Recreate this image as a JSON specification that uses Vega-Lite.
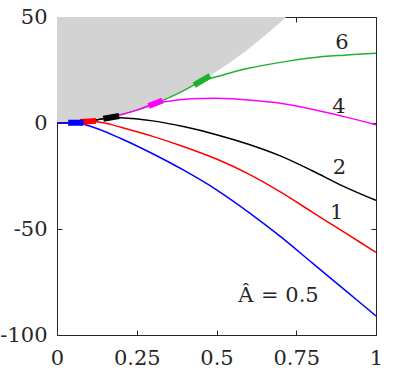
{
  "$schema": "https://vega.github.io/schema/vega-lite/v6.json",
  "width": 319,
  "height": 318,
  "autosize": {"type": "none"},
  "padding": {"left": 57, "top": 17, "right": 23, "bottom": 40},
  "background": "white",
  "config": {
    "view": {"stroke": null}
  },
  "datasets": {
    "bound": [
      {"x": 0, "y": 0}, {"x": 0.05, "y": 0.24}, {"x": 0.1, "y": 0.97}, {"x": 0.15, "y": 2.18},
      {"x": 0.2, "y": 3.88}, {"x": 0.25, "y": 6.06}, {"x": 0.3, "y": 8.73}, {"x": 0.35, "y": 11.88},
      {"x": 0.4, "y": 15.52}, {"x": 0.45, "y": 19.64}, {"x": 0.5, "y": 24.25}, {"x": 0.55, "y": 29.34},
      {"x": 0.6, "y": 34.92}, {"x": 0.65, "y": 40.98}, {"x": 0.7, "y": 47.53}, {"x": 0.718, "y": 50}
    ],
    "curves": [
      {"c": "6", "o": 1, "x": 0, "y": 0}, {"c": "6", "o": 1, "x": 0.05, "y": 0.24}, {"c": "6", "o": 1, "x": 0.1, "y": 0.97},
      {"c": "6", "o": 1, "x": 0.15, "y": 2.18}, {"c": "6", "o": 1, "x": 0.2, "y": 3.88}, {"c": "6", "o": 1, "x": 0.25, "y": 6.06},
      {"c": "6", "o": 1, "x": 0.3, "y": 8.73}, {"c": "6", "o": 1, "x": 0.35, "y": 11.88}, {"c": "6", "o": 1, "x": 0.4, "y": 15.52},
      {"c": "6", "o": 1, "x": 0.45, "y": 19.6}, {"c": "6", "o": 1, "x": 0.5, "y": 21.8}, {"c": "6", "o": 1, "x": 0.6, "y": 25.8},
      {"c": "6", "o": 1, "x": 0.7, "y": 28.6}, {"c": "6", "o": 1, "x": 0.8, "y": 30.8}, {"c": "6", "o": 1, "x": 0.9, "y": 32.0},
      {"c": "6", "o": 1, "x": 1.0, "y": 32.9},

      {"c": "4", "o": 2, "x": 0, "y": 0}, {"c": "4", "o": 2, "x": 0.05, "y": 0.24}, {"c": "4", "o": 2, "x": 0.1, "y": 0.97},
      {"c": "4", "o": 2, "x": 0.15, "y": 2.18}, {"c": "4", "o": 2, "x": 0.2, "y": 3.88}, {"c": "4", "o": 2, "x": 0.25, "y": 6.06},
      {"c": "4", "o": 2, "x": 0.31, "y": 9.3}, {"c": "4", "o": 2, "x": 0.35, "y": 10.3}, {"c": "4", "o": 2, "x": 0.4, "y": 11.2},
      {"c": "4", "o": 2, "x": 0.45, "y": 11.6}, {"c": "4", "o": 2, "x": 0.5, "y": 11.7}, {"c": "4", "o": 2, "x": 0.55, "y": 11.4},
      {"c": "4", "o": 2, "x": 0.6, "y": 10.8}, {"c": "4", "o": 2, "x": 0.7, "y": 9.3}, {"c": "4", "o": 2, "x": 0.8, "y": 6.5},
      {"c": "4", "o": 2, "x": 0.9, "y": 3.0}, {"c": "4", "o": 2, "x": 1.0, "y": -0.8},

      {"c": "2", "o": 3, "x": 0, "y": 0}, {"c": "2", "o": 3, "x": 0.05, "y": 0.24}, {"c": "2", "o": 3, "x": 0.1, "y": 0.97},
      {"c": "2", "o": 3, "x": 0.14, "y": 1.9}, {"c": "2", "o": 3, "x": 0.17, "y": 2.6}, {"c": "2", "o": 3, "x": 0.2, "y": 2.5},
      {"c": "2", "o": 3, "x": 0.3, "y": 1.0}, {"c": "2", "o": 3, "x": 0.4, "y": -1.8}, {"c": "2", "o": 3, "x": 0.5, "y": -5.5},
      {"c": "2", "o": 3, "x": 0.6, "y": -10.0}, {"c": "2", "o": 3, "x": 0.7, "y": -15.5}, {"c": "2", "o": 3, "x": 0.8, "y": -22.5},
      {"c": "2", "o": 3, "x": 0.9, "y": -30.0}, {"c": "2", "o": 3, "x": 1.0, "y": -36.5},

      {"c": "1", "o": 4, "x": 0, "y": 0}, {"c": "1", "o": 4, "x": 0.05, "y": 0.24}, {"c": "1", "o": 4, "x": 0.1, "y": 0.8},
      {"c": "1", "o": 4, "x": 0.15, "y": 0.0}, {"c": "1", "o": 4, "x": 0.2, "y": -2.0}, {"c": "1", "o": 4, "x": 0.3, "y": -6.3},
      {"c": "1", "o": 4, "x": 0.4, "y": -11.3}, {"c": "1", "o": 4, "x": 0.5, "y": -17.0}, {"c": "1", "o": 4, "x": 0.6, "y": -24.0},
      {"c": "1", "o": 4, "x": 0.7, "y": -32.5}, {"c": "1", "o": 4, "x": 0.8, "y": -42.0}, {"c": "1", "o": 4, "x": 0.9, "y": -51.5},
      {"c": "1", "o": 4, "x": 1.0, "y": -61.0},

      {"c": "0.5", "o": 5, "x": 0, "y": 0}, {"c": "0.5", "o": 5, "x": 0.03, "y": 0.1}, {"c": "0.5", "o": 5, "x": 0.06, "y": 0.2},
      {"c": "0.5", "o": 5, "x": 0.1, "y": -1.3}, {"c": "0.5", "o": 5, "x": 0.2, "y": -7.3}, {"c": "0.5", "o": 5, "x": 0.3, "y": -14.5},
      {"c": "0.5", "o": 5, "x": 0.4, "y": -22.5}, {"c": "0.5", "o": 5, "x": 0.5, "y": -31.5}, {"c": "0.5", "o": 5, "x": 0.6, "y": -42.0},
      {"c": "0.5", "o": 5, "x": 0.7, "y": -53.5}, {"c": "0.5", "o": 5, "x": 0.8, "y": -66.0}, {"c": "0.5", "o": 5, "x": 0.9, "y": -78.5},
      {"c": "0.5", "o": 5, "x": 1.0, "y": -91.0}
    ],
    "segs": [
      {"c": "6", "x": 0.43, "y": 17.9}, {"c": "6", "x": 0.48, "y": 22.3},
      {"c": "4", "x": 0.287, "y": 8.0}, {"c": "4", "x": 0.331, "y": 10.6},
      {"c": "2", "x": 0.145, "y": 2.04}, {"c": "2", "x": 0.195, "y": 3.3},
      {"c": "1", "x": 0.072, "y": 0.5}, {"c": "1", "x": 0.122, "y": 1.0},
      {"c": "0.5", "x": 0.035, "y": 0.12}, {"c": "0.5", "x": 0.083, "y": 0.1}
    ],
    "labels": [
      {"t": "6", "x": 0.893, "y": 37.8, "s": "normal"},
      {"t": "4", "x": 0.884, "y": 7.5, "s": "normal"},
      {"t": "2", "x": 0.885, "y": -21.2, "s": "normal"},
      {"t": "1", "x": 0.877, "y": -42.3, "s": "normal"},
      {"t": "Â", "x": 0.592, "y": -81.5, "s": "italic"},
      {"t": "= 0.5", "x": 0.73, "y": -81.5, "s": "normal"}
    ]
  },
  "layer": [
    {
      "data": {"name": "bound"},
      "mark": {"type": "area", "color": "#d3d3d3", "clip": true, "interpolate": "monotone"},
      "encoding": {
        "x": {"field": "x", "type": "quantitative", "scale": {"domain": [0, 1], "nice": false, "zero": false},
          "axis": {"orient": "bottom", "values": [0, 0.25, 0.5, 0.75, 1], "labelExpr": "'' + datum.value", "title": null, "grid": false,
            "domainColor": "#262626", "tickColor": "#262626", "tickSize": -5, "labelPadding": 17, "labelFontSize": 21, "labelFont": "DejaVu Serif", "labelColor": "#262626", "labelFlush": false}},
        "y": {"field": "y", "type": "quantitative", "scale": {"domain": [-100, 50], "nice": false, "zero": false},
          "axis": {"orient": "left", "values": [-100, -50, 0, 50], "labelExpr": "'' + datum.value", "title": null, "grid": false,
            "domainColor": "#262626", "tickColor": "#262626", "tickSize": -5, "labelPadding": 15, "labelFontSize": 21, "labelFont": "DejaVu Serif", "labelColor": "#262626", "labelFlush": false}},
        "y2": {"datum": 50}
      }
    },
    {
      "data": {"name": "curves"},
      "mark": {"type": "line", "strokeWidth": 1.5, "clip": true, "interpolate": "monotone"},
      "encoding": {
        "x": {"field": "x", "type": "quantitative",
          "axis": {"orient": "top", "values": [0, 0.25, 0.5, 0.75, 1], "labels": false, "title": null, "grid": false, "domainColor": "#262626", "tickColor": "#262626", "tickSize": -5}},
        "y": {"field": "y", "type": "quantitative",
          "axis": {"orient": "right", "values": [-100, -50, 0, 50], "labels": false, "title": null, "grid": false, "domainColor": "#262626", "tickColor": "#262626", "tickSize": -5}},
        "detail": {"field": "c"},
        "order": {"field": "x", "type": "quantitative"},
        "color": {"field": "c", "type": "nominal", "legend": null,
          "scale": {"domain": ["0.5", "1", "2", "4", "6"], "range": ["#0000ff", "#ff0000", "#000000", "#ff00ff", "#20b030"]}},
        "zindex": {"field": "o"}
      }
    },
    {
      "data": {"name": "segs"},
      "mark": {"type": "line", "strokeWidth": 6, "strokeCap": "butt", "clip": true},
      "encoding": {
        "x": {"field": "x", "type": "quantitative", "axis": null},
        "y": {"field": "y", "type": "quantitative", "axis": null},
        "detail": {"field": "c"},
        "color": {"field": "c", "type": "nominal", "legend": null,
          "scale": {"domain": ["0.5", "1", "2", "4", "6"], "range": ["#0000ff", "#ff0000", "#000000", "#ff00ff", "#20b030"]}}
      }
    },
    {
      "data": {"name": "labels"},
      "mark": {"type": "text", "fontSize": 21, "font": "DejaVu Serif", "color": "#262626", "baseline": "middle", "align": "center"},
      "encoding": {
        "x": {"field": "x", "type": "quantitative", "axis": null},
        "y": {"field": "y", "type": "quantitative", "axis": null},
        "text": {"field": "t"},
        "fontStyle": {"field": "s", "type": "nominal", "scale": null}
      }
    }
  ],
  "resolve": {"axis": {"x": "independent", "y": "independent"}}
}
